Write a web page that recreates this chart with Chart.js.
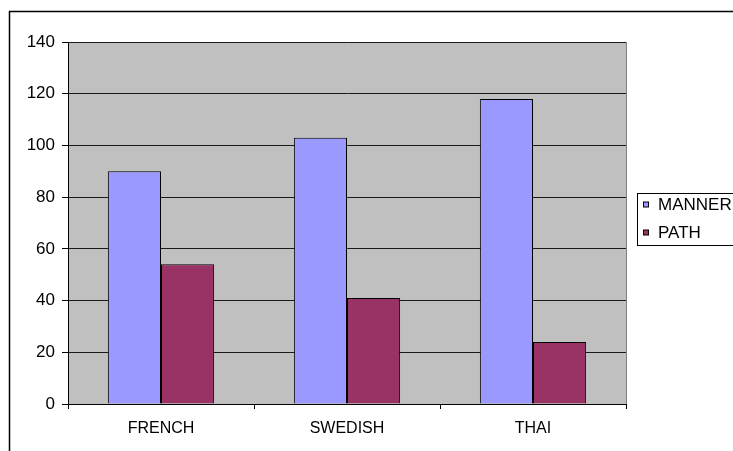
<!DOCTYPE html>
<html>
<head>
<meta charset="utf-8">
<script src="https://cdn.jsdelivr.net/npm/chart.js@4"></script>
<style>
    html, body { margin: 0; padding: 0; background: #fff; }
    #wrap { width: 733px; height: 451px; }
</style>
</head>
<body>
<div id="wrap"><canvas id="langChart" width="733" height="451"></canvas></div>
<script>
const languages = ['FRENCH', 'SWEDISH', 'THAI'];
const mannerValues = [90, 103, 118];
const pathValues = [54, 41, 24];
const yTickValues = [0, 20, 40, 60, 80, 100, 120, 140];

const fontFamily = "'Liberation Sans', Arial, sans-serif";

// grey plot background, outer frame and the boxed legend on the right
const excelLook = {
    id: 'excelLook',
    beforeDraw(chart) {
        const { ctx, chartArea: a } = chart;
        ctx.save();
        ctx.fillStyle = '#C0C0C0';
        ctx.fillRect(a.left, a.top, a.right - a.left, a.bottom - a.top);
        ctx.strokeStyle = '#808080';
        ctx.lineWidth = 1;
        ctx.strokeRect(Math.round(a.left) + 0.5, Math.round(a.top) + 0.5,
            Math.round(a.right - a.left), Math.round(a.bottom - a.top));
        ctx.restore();
    },
    afterDraw(chart) {
        const ctx = chart.ctx;
        ctx.save();
        ctx.strokeStyle = '#000';
        ctx.lineWidth = 1.5;
        ctx.strokeRect(9.5, 11.5, 800, 800);

        // legend
        ctx.lineWidth = 1;
        ctx.fillStyle = '#fff';
        ctx.fillRect(637.5, 193.5, 120, 52);
        ctx.strokeRect(637.5, 193.5, 120, 52);
        ctx.font = '17px ' + fontFamily;
        ctx.textBaseline = 'middle';
        chart.data.datasets.forEach((ds, i) => {
            const y = 205 + i * 28;
            ctx.fillStyle = ds.backgroundColor;
            ctx.fillRect(643.5, y - 3, 5, 5);
            ctx.strokeStyle = '#000';
            ctx.strokeRect(643.5, y - 3, 5, 5);
            ctx.fillStyle = '#000';
            ctx.fillText(ds.label, 658, y);
        });
        ctx.restore();
    }
};

new Chart(document.getElementById('langChart'), {
    type: 'bar',
    data: {
        labels: languages,
        datasets: [
            {
                label: 'MANNER',
                data: mannerValues,
                backgroundColor: '#9999FF',
                borderColor: '#000',
                borderWidth: 1
            },
            {
                label: 'PATH',
                data: pathValues,
                backgroundColor: '#993366',
                borderColor: '#000',
                borderWidth: 1
            }
        ]
    },
    options: {
        responsive: false,
        animation: false,
        layout: { padding: { top: 42, right: 107, bottom: 0, left: 0 } },
        datasets: {
            bar: { categoryPercentage: 2 / 3.5, barPercentage: 1 }
        },
        plugins: {
            legend: { display: false },
            tooltip: { enabled: false }
        },
        scales: {
            x: {
                afterFit: scale => { scale.height = 47; },
                grid: {
                    offset: true,
                    drawOnChartArea: false,
                    drawTicks: true,
                    tickLength: 5,
                    tickColor: '#000'
                },
                border: { color: '#000', width: 1 },
                ticks: {
                    color: '#000',
                    padding: 10,
                    font: { family: fontFamily, size: 16 }
                }
            },
            y: {
                min: 0,
                max: 140,
                afterFit: scale => { scale.width = 68; },
                afterBuildTicks: scale => {
                    scale.ticks = yTickValues.map(v => ({ value: v }));
                },
                grid: {
                    color: '#1a1a1a',
                    lineWidth: 1,
                    drawTicks: true,
                    tickLength: 6,
                    tickColor: '#000'
                },
                border: { color: '#000', width: 1 },
                ticks: {
                    color: '#000',
                    padding: 7,
                    font: { family: fontFamily, size: 17 }
                }
            }
        }
    },
    plugins: [excelLook]
});
</script>
</body>
</html>
